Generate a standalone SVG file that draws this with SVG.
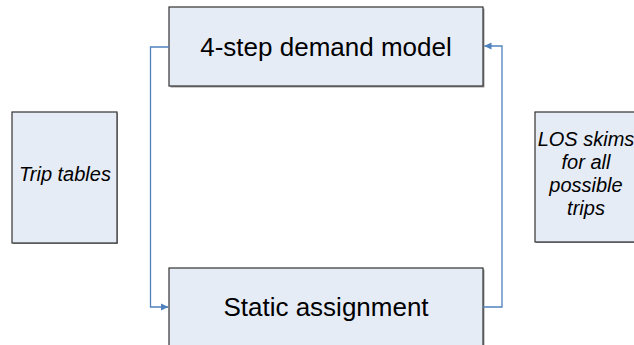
<svg xmlns="http://www.w3.org/2000/svg" width="634" height="345" viewBox="0 0 634 345">
<defs>
<style>
.box{fill:#E6ECF6;stroke:#333;stroke-width:1.2}
.sh{fill:#999}
.t{font-family:"Liberation Sans",Arial,sans-serif;fill:#000;text-anchor:middle}
.big{font-size:26px}
.it{font-size:20px;font-style:italic}
.c{fill:none;stroke:#4F81BD;stroke-width:1.3}
</style>
<marker id="ah" markerWidth="8" markerHeight="8" refX="7" refY="4" orient="auto" markerUnits="userSpaceOnUse">
<path d="M0,0.5 L7.5,4 L0,7.5 Z" fill="#4F81BD"/>
</marker>
</defs>
<rect width="634" height="345" fill="#fff"/>
<g id="demand">
<rect class="sh" x="170.5" y="8.5" width="314" height="79"/>
<rect class="box" x="169" y="7" width="314" height="79"/>
<text class="t big" x="326" y="56">4-step demand model</text>
</g>
<g id="assignment">
<rect class="sh" x="170.5" y="269.5" width="314" height="100"/>
<rect class="box" x="169" y="268" width="314" height="100"/>
<text class="t big" x="326" y="316">Static assignment</text>
</g>
<g id="trips">
<rect class="sh" x="13" y="113" width="105" height="131"/>
<rect class="box" x="12" y="112" width="105" height="131"/>
<text class="t it" x="65" y="181">Trip tables</text>
</g>
<g id="los">
<rect class="sh" x="536" y="113" width="105" height="130"/>
<rect class="box" x="535" y="112" width="105" height="130"/>
<text class="t it" x="586" y="146">LOS skims</text>
<text class="t it" x="586" y="169">for all</text>
<text class="t it" x="586" y="192">possible</text>
<text class="t it" x="586" y="215">trips</text>
</g>
<g id="connectors">
<path class="c" d="M169,47 H150.5 V307 H168" marker-end="url(#ah)"/>
<path class="c" d="M483,307 H502 V46 H484.5" marker-end="url(#ah)"/>
</g>
</svg>
